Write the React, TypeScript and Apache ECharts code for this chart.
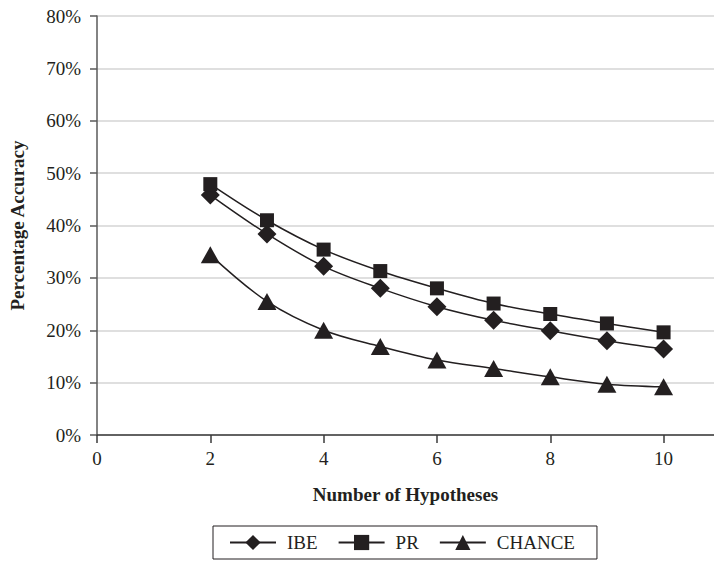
import React, { useEffect, useRef } from "react";
import * as echarts from "echarts";

const hypotheses = [2, 3, 4, 5, 6, 7, 8, 9, 10];
const ibeValues = [45.8, 38.4, 32.2, 28.0, 24.5, 21.9, 19.9, 18.0, 16.4];
const prValues = [47.9, 41.0, 35.4, 31.3, 28.0, 25.1, 23.1, 21.3, 19.6];
const chanceValues = [34.4, 25.5, 20.0, 16.9, 14.3, 12.7, 11.1, 9.7, 9.2];
const xTickValues = [0, 2, 4, 6, 8, 10];
const seriesNames = ["IBE", "PR", "CHANCE"];

const FONT = "Liberation Serif";
const INK = "#231f20";

export default function App() {
  const ref = useRef<HTMLDivElement>(null);
  useEffect(() => {
    const chart = echarts.init(ref.current!, null, { renderer: "svg" });
    const toPairs = (vals: number[]) => hypotheses.map((h, i) => [h, vals[i]]);
    const mk = (name: string, vals: number[], symbol: string, size: any) => ({
      name,
      type: "line",
      smooth: 0.35,
      data: toPairs(vals),
      symbol,
      symbolSize: size,
      showAllSymbol: true,
      lineStyle: { color: INK, width: 1.5 },
      itemStyle: { color: INK, borderWidth: 0 },
      z: 3,
    });
    chart.setOption({
      animation: false,
      backgroundColor: "#ffffff",
      textStyle: { fontFamily: FONT, color: INK },
      grid: { left: 94, right: 0, top: 16, bottom: 126, containLabel: false },
      xAxis: {
        type: "value",
        min: 0,
        max: 10.89,
        interval: 2,
        name: "Number of Hypotheses",
        nameLocation: "middle",
        nameGap: 50,
        nameTextStyle: { fontFamily: FONT, fontSize: 19, fontWeight: "bold", color: INK },
        axisLine: { show: true, lineStyle: { color: "#3a3a3a", width: 1.5 } },
        axisTick: { show: true, length: 8, customValues: xTickValues, lineStyle: { color: "#3a3a3a", width: 1.5 } },
        axisLabel: { customValues: xTickValues, fontFamily: FONT, fontSize: 19, color: INK, margin: 14 },
        splitLine: { show: false },
      },
      yAxis: {
        type: "value",
        min: 0,
        max: 80,
        interval: 10,
        name: "Percentage Accuracy",
        nameLocation: "middle",
        nameGap: 70,
        nameTextStyle: { fontFamily: FONT, fontSize: 19, fontWeight: "bold", color: INK },
        axisLine: { show: true, lineStyle: { color: "#5a5a5a", width: 1.5 } },
        axisTick: { show: true, length: 7, lineStyle: { color: "#5a5a5a", width: 1.5 } },
        axisLabel: { formatter: "{value}%", fontFamily: FONT, fontSize: 19, color: INK, margin: 16 },
        splitLine: { show: true, lineStyle: { color: "#d4d4d4", width: 1.5 } },
      },
      legend: {
        data: seriesNames,
        left: 213,
        top: 526,
        orient: "horizontal",
        borderColor: INK,
        borderWidth: 1,
        padding: [7, 22, 7, 16],
        itemGap: 20,
        itemWidth: 46,
        itemHeight: 19,
        textStyle: { fontFamily: FONT, fontSize: 19, color: INK, padding: [0, 0, 0, 6] },
      },
      series: [
        mk(seriesNames[0], ibeValues, "diamond", [19, 19]),
        mk(seriesNames[1], prValues, "rect", [14, 14]),
        mk(seriesNames[2], chanceValues, "triangle", [19, 17]),
      ],
    });
    return () => chart.dispose();
  }, []);
  return (
    <div
      ref={ref}
      style={{ width: 714, height: 561, position: "absolute", left: 0, top: 0 }}
    />
  );
}
